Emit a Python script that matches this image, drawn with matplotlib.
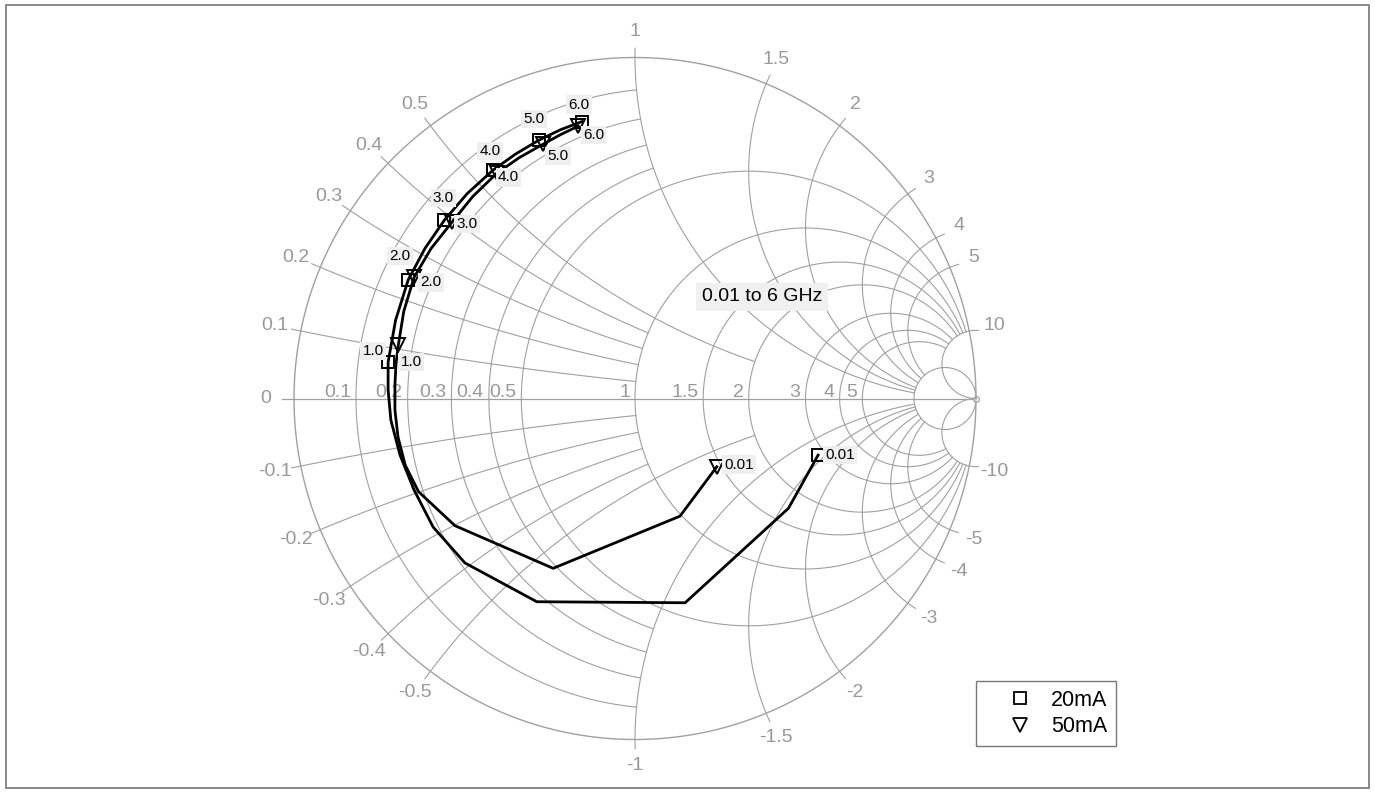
import numpy as np
import matplotlib
matplotlib.use('Agg')
import matplotlib.pyplot as plt
from matplotlib.lines import Line2D
from matplotlib.patches import Rectangle

plt.rcParams['font.family'] = ['Liberation Sans', 'DejaVu Sans']

freq = [0.01, 0.1, 0.2, 0.3, 0.4, 0.5, 0.6, 0.7, 0.8, 0.9, 1.0,
        1.5, 2.0, 2.5, 3.0, 3.5, 4.0, 4.5, 5.0, 5.5, 6.0]
re_20 = [0.537, 0.450, 0.147, -0.288, -0.499, -0.592, -0.648, -0.689, -0.716, -0.724, -0.724,
         -0.702, -0.665, -0.616, -0.559, -0.492, -0.416, -0.350, -0.281, -0.219, -0.156]
im_20 = [-0.166, -0.322, -0.599, -0.596, -0.482, -0.377, -0.268, -0.166, -0.063, 0.025, 0.107,
         0.230, 0.348, 0.440, 0.523, 0.601, 0.670, 0.717, 0.758, 0.788, 0.812]
re_50 = [0.240, 0.132, -0.240, -0.528, -0.635, -0.674, -0.695, -0.704, -0.704, -0.701, -0.694,
         -0.678, -0.648, -0.598, -0.536, -0.476, -0.406, -0.340, -0.269, -0.218, -0.166]
im_50 = [-0.200, -0.345, -0.498, -0.373, -0.273, -0.195, -0.113, -0.034, 0.040, 0.101, 0.157,
         0.256, 0.355, 0.440, 0.518, 0.592, 0.660, 0.706, 0.746, 0.774, 0.799]
marked = [0.01, 1.0, 2.0, 3.0, 4.0, 5.0, 6.0]
marked_labels = ['0.01', '1.0', '2.0', '3.0', '4.0', '5.0', '6.0']

r_grid = [0.1, 0.2, 0.3, 0.4, 0.5, 1, 1.5, 2, 3, 4, 5, 10]
x_grid = [0.1, 0.2, 0.3, 0.4, 0.5, 1, 1.5, 2, 3, 4, 5, 10]
r_labels = ['0.1', '0.2', '0.3', '0.4', '0.5', '1', '1.5', '2', '3', '4', '5']
x_labels = ['0.1', '0.2', '0.3', '0.4', '0.5', '1', '1.5', '2', '3', '4', '5', '10']

# where each grid line stops (None = drawn fully)
r_clip = {0.1: 1, 0.2: 1, 0.3: 1, 0.4: 1, 0.5: 10, 1: 10, 1.5: 10, 2: 10, 3: 10, 4: 10, 5: 10, 10: None}
x_clip = {0.1: 1, 0.2: 1, 0.3: 1, 0.4: 1, 0.5: 2, 1: 10, 1.5: 10, 2: 10, 3: 10, 4: 10, 5: 10, 10: None}

# label offsets in pixels (dx, dy down positive)
off_20 = [(22, 0), (23, 0), (-8, -24), (-1, -22), (-3, -19), (-5, -21), (-3, -17)]
off_50 = [(22, -2), (-25, 6), (17, 5), (15, 2), (12, 4), (15, 12), (15, 9)]

W, H, DPI = 1375, 792, 100
CX, CY, R = 635, 398.5, 341
GRID = '#a0a0a0'
LBL = '#999999'
TICK_FS = 14

fig = plt.figure(figsize=(W / DPI, H / DPI), dpi=DPI)
ax = fig.add_axes([0, 0, 1, 1])
ax.set_xlim(-CX / R, (W - CX) / R)
ax.set_ylim(-(H - CY) / R, CY / R)
ax.axis('off')


def gamma(z):
    return (z - 1) / (z + 1)


# outer circle and real axis
t = np.linspace(0, 2 * np.pi, 800)
ax.plot(np.cos(t), np.sin(t), color=GRID, lw=1.0, zorder=1)
ax.plot([-1 - 12 / R, 1], [0, 0], color=GRID, lw=0.9, zorder=1)
ax.plot([1], [0], marker='o', ms=4, mfc='white', mec=GRID, mew=0.9, zorder=1)

# constant resistance circles
for r in r_grid:
    xm = r_clip[r]
    if xm is None:
        c, rad = r / (1 + r), 1 / (1 + r)
        ax.plot(c + rad * np.cos(t), rad * np.sin(t), color=GRID, lw=0.8, zorder=1)
    else:
        s = np.linspace(-np.arctan(xm), np.arctan(xm), 1500)
        g = gamma(r + 1j * np.tan(s))
        ax.plot(g.real, g.imag, color=GRID, lw=0.8, zorder=1)

# constant reactance arcs, with a short tick outside the rim
for x in x_grid:
    rm = x_clip[x]
    r0 = -0.0135 * (1 + x ** 2)
    top = np.arctan(rm) if rm is not None else np.arctan(1e5)
    s = np.linspace(np.arctan(r0), top, 1500)
    rr = np.tan(s)
    for sgn in (1, -1):
        g = gamma(rr + 1j * sgn * x)
        ax.plot(g.real, g.imag, color=GRID, lw=0.8, zorder=1)

# resistance labels on the real axis
for r, lab in zip(r_grid, r_labels):
    ax.text((r - 1) / (r + 1) - 5 / R, 1.5 / R, lab, ha='right', va='baseline',
            fontsize=TICK_FS, color=LBL, zorder=2)

# reactance labels round the rim
rl = 1 + 26 / R
ax.text(-rl - 2 / R, 0, '0', ha='center', va='center', fontsize=TICK_FS, color=LBL)
for x, lab in zip(x_grid, x_labels):
    for sgn in (1, -1):
        g = gamma(1j * sgn * x)
        ang = np.angle(g)
        ax.text(rl * np.cos(ang), rl * np.sin(ang), lab if sgn > 0 else '-' + lab,
                ha='center', va='center', fontsize=TICK_FS, color=LBL)

# data traces
series = [(re_20, im_20, 's', 8, off_20), (re_50, im_50, 'v', 9.5, off_50)]
for re_v, im_v, mk, ms, offs in series:
    ax.plot(re_v, im_v, color='black', lw=2.0, zorder=3, solid_joinstyle='miter')
    for f, lab, (dx, dy) in zip(marked, marked_labels, offs):
        i = freq.index(f)
        ax.plot(re_v[i], im_v[i], marker=mk, ms=ms, mfc='none', mec='black', mew=1.4, zorder=4)
        ax.annotate(lab, (re_v[i], im_v[i]), xytext=(dx * 0.72, -dy * 0.72),
                    textcoords='offset points', ha='center', va='center', fontsize=11,
                    zorder=5, bbox=dict(boxstyle='square,pad=0.15', fc='#efefef', ec='none'))

ax.text(0.196, 0.298, '0.01 to 6 GHz', ha='left', va='center', fontsize=14, zorder=5,
        bbox=dict(boxstyle='square,pad=0.3', fc='#f0f0f0', ec='none'))

handles = [Line2D([], [], ls='none', marker='s', ms=8, mfc='none', mec='black', mew=1.3),
           Line2D([], [], ls='none', marker='v', ms=10, mfc='none', mec='black', mew=1.3)]
leg = fig.legend(handles, ['20mA', '50mA'], loc='lower left',
                 bbox_to_anchor=(976 / W, (H - 746) / H), bbox_transform=fig.transFigure,
                 borderaxespad=0, fancybox=False, edgecolor='#555555', fontsize=15.5,
                 handlelength=3.25, handletextpad=-0.15, borderpad=0.4, labelspacing=0.26)
leg.get_frame().set_linewidth(1.0)

fig.patches.append(Rectangle((5.5 / W, 4.5 / H), (1368.5 - 5.5) / W, (787.5 - 4.5) / H,
                             transform=fig.transFigure, fill=False, ec='#7f7f7f', lw=1.3))

fig.savefig('out.png', dpi=DPI)
